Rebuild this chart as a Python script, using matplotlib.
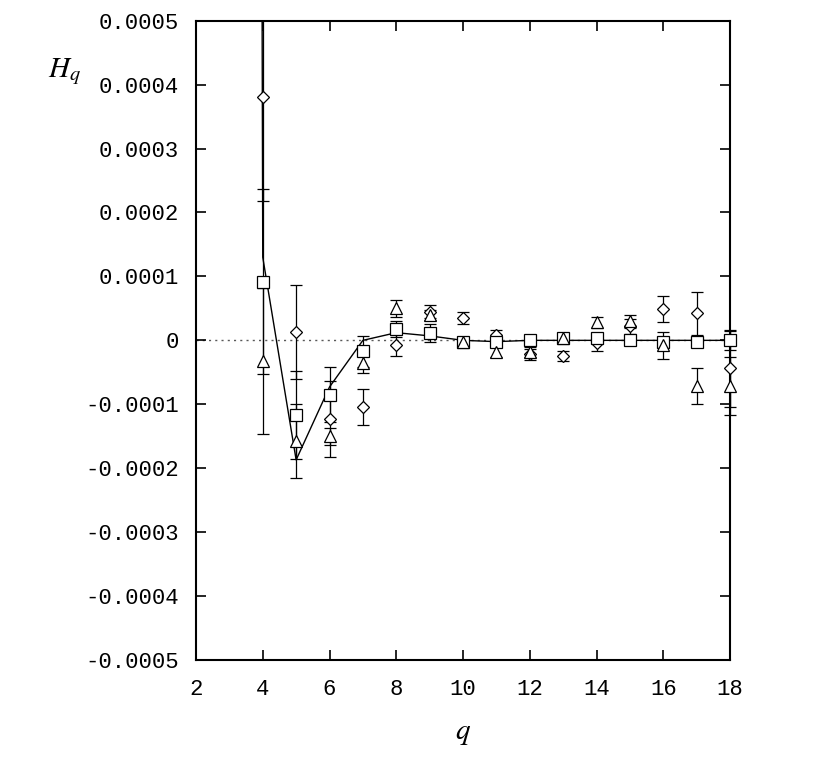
#############################################################
# Data (values in units of 1e-4)
#############################################################
import numpy as np
import matplotlib
matplotlib.use('Agg')
import matplotlib.pyplot as plt
from matplotlib.patches import Rectangle

q_values = [4, 5, 6, 7, 8, 9, 10, 11, 12, 13, 14, 15, 16, 17, 18]

diamond_vals = [3.80, 0.13, -1.23, -1.04, -0.07, 0.45, 0.35, 0.08, -0.22, -0.25, -0.04, 0.22, 0.49, 0.42, -0.44]
diamond_errs = [1.62, 0.73, 0.60, 0.28, 0.18, 0.10, 0.10, 0.08, 0.08, 0.08, 0.13, 0.12, 0.21, 0.33, 0.60]

square_vals = [0.92, -1.17, -0.85, -0.17, 0.18, 0.12, -0.02, -0.03, 0.00, 0.03, 0.04, 0.01, -0.02, -0.02, 0.00]
square_errs = [1.44, 0.69, 0.43, 0.24, 0.13, 0.14, 0.05, 0.05, 0.05, 0.06, 0.05, 0.05, 0.05, 0.06, 0.15]

triangle_vals = [-0.32, -1.58, -1.50, -0.35, 0.50, 0.40, -0.02, -0.18, -0.18, 0.03, 0.28, 0.30, -0.08, -0.72, -0.71]
triangle_errs = [1.14, 0.58, 0.13, 0.16, 0.13, 0.08, 0.05, 0.08, 0.08, 0.05, 0.08, 0.10, 0.21, 0.28, 0.45]

# theory curve (q=3 value lies far above the frame)
curve_q = [3, 4, 5, 6, 7, 8, 9, 10, 11, 12, 13, 14, 15, 16, 17, 18]
curve_vals = [200.0, 1.30, -1.87, -0.73, 0.00, 0.12, 0.07, 0.00, -0.02, 0.00, 0.00, 0.00, 0.00, 0.00, 0.00, 0.00]

scale = 1e-4

#############################################################
# Plot
#############################################################
plt.rcParams['axes.unicode_minus'] = False
plt.rcParams['mathtext.fontset'] = 'stix'

fig = plt.figure(figsize=(8.17, 7.61), dpi=100)
ax = fig.add_axes([196/817, 1-660/761, (730-196)/817, (660-20.7)/761])

ax.axhline(0.0, color='0.35', lw=1.0, ls=(0, (1.5, 3)), zorder=1)
ax.plot(curve_q, np.array(curve_vals)*scale, color='black', lw=1.0, zorder=2)

# clip vertically to the frame, but let marks at q=18 sit over the right spine
clip_rect = Rectangle((-0.05, 0.0), 1.1, 1.0, transform=ax.transAxes,
                      fill=False, visible=False)
ax.add_patch(clip_rect)

ebkw = dict(ls='none', color='black', ecolor='black', elinewidth=0.9, capsize=4.3,
            capthick=0.9, mfc='white', mec='black', mew=0.9, zorder=3)
series = [
    (diamond_vals, diamond_errs, 'D', 6.5),
    (square_vals, square_errs, 's', 8),
    (triangle_vals, triangle_errs, '^', 8),
]
for vals, errs, mk, ms in series:
    cont = ax.errorbar(q_values, np.array(vals)*scale, yerr=np.array(errs)*scale,
                       marker=mk, ms=ms, **ebkw)
    data_line, caplines, barcols = cont.lines
    for art in [data_line, *caplines, *barcols]:
        art.set_clip_path(clip_rect)
# end for

ax.set_xlim(2, 18)
ax.set_ylim(-0.0005, 0.0005)
ax.set_xticks(np.arange(2, 19, 2))
yt = np.arange(-5, 6)*scale
ax.set_yticks(yt)
ax.set_yticklabels(['0' if abs(v) < 1e-12 else f'{v:.4f}' for v in yt])

ax.tick_params(direction='in', length=7, width=1.2, top=True, right=True,
               labelsize=16)
ax.tick_params(axis='x', pad=14)
ax.tick_params(axis='y', pad=12)
for lab in ax.get_xticklabels() + ax.get_yticklabels():
    lab.set_family('Liberation Mono')
for sp in ax.spines.values():
    sp.set_linewidth(1.5)
    sp.set_zorder(2.5)

fig.text(65/817, 1-72/761, r'$H_q$', fontsize=21, ha='center', va='center')
fig.text(463/817, 1-733/761, r'$q$', fontsize=21, ha='center', va='center')

fig.savefig('out.png', dpi=100)
plt.close(fig)
